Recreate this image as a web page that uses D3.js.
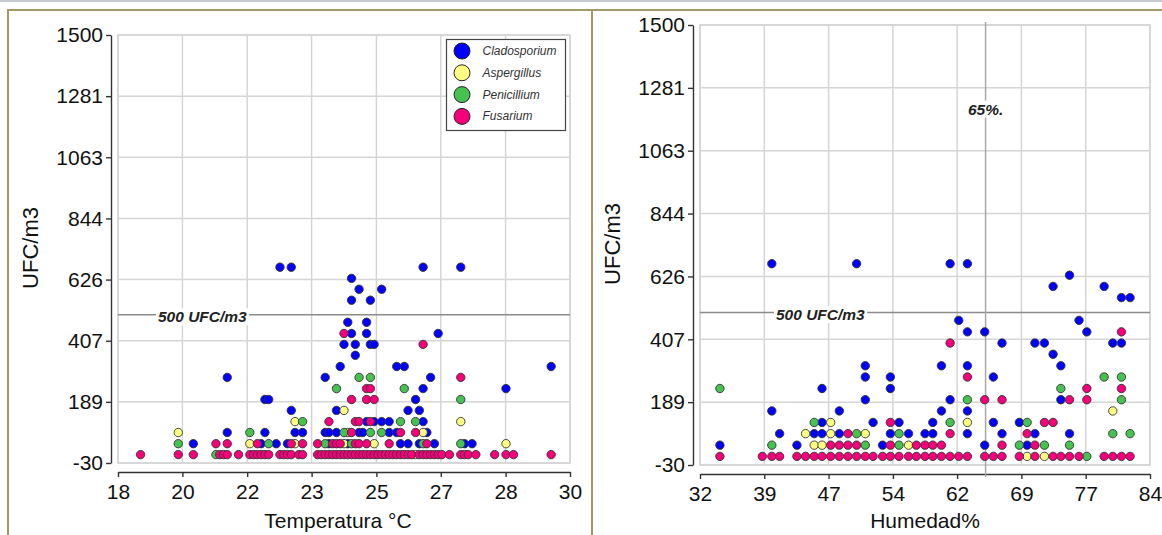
<!DOCTYPE html>
<html>
<head>
<meta charset="utf-8">
<script src="https://cdn.jsdelivr.net/npm/d3@7"></script>
<style>
  body { margin: 0; background: #fff; }
  svg { display: block; font-family: "Liberation Sans", Arial, sans-serif; }
</style>
</head>
<body>
<svg id="chart" width="1162" height="535"></svg>
<script>
// ---- Data -------------------------------------------------------------
const speciesNames = ["Cladosporium", "Aspergillus", "Penicillium", "Fusarium"];
const speciesColors = ["#0000ff", "#ffff80", "#46c250", "#f5007a"];

const yTickValues = [-30, 188.6, 407.1, 625.7, 844.3, 1062.9, 1281.4, 1500];
const yTickLabels = ["-30", "189", "407", "626", "844", "1063", "1281", "1500"];

const tempTickValues = [18, 19.71, 21.43, 23.14, 24.86, 26.57, 28.29, 30];
const tempTickLabels = ["18", "20", "22", "23", "25", "27", "28", "30"];

const humTickValues = [32, 39.43, 46.86, 54.29, 61.71, 69.14, 76.57, 84];
const humTickLabels = ["32", "39", "47", "54", "62", "69", "77", "84"];

const limitUFC = 500;
const limitHumidity = 65;

// [temperatura, UFC/m3]
const tempClado = [
  [22.3,670],[22.6,670],[26.1,670],[27.1,670],
  [24.2,630],
  [24.4,591],[25.0,591],
  [24.2,552],[24.7,552],
  [24.1,473],[24.6,473],
  [24.2,433],[24.6,433],[26.5,433],
  [24.0,394],[24.3,394],[24.7,394],[24.8,394],
  [24.3,355],
  [23.9,315],[25.4,315],[25.6,315],[29.5,315],
  [20.9,276],[23.5,276],[26.3,276],
  [26.1,236],[28.3,236],
  [21.9,197],[22.0,197],[25.9,197],
  [22.6,158],[23.8,158],[25.7,158],[26.0,158],
  [24.6,118],[24.8,118],[25.0,118],[25.2,118],[26.1,118],
  [20.9,79],[21.9,79],[22.7,79],[22.9,79],[23.5,79],[23.6,79],[23.8,79],[24.4,79],[24.5,79],[25.2,79],[25.4,79],[26.2,79],
  [20.0,39],[21.8,39],[22.2,39],[22.5,39],[23.6,39],[24.1,39],[25.5,39],[25.7,39],[26.0,39],[26.4,39],[27.2,39],[27.4,39]
];
const tempAsper = [
  [24.0,158],[22.7,118],[27.1,118],[19.6,79],[24.1,79],[26.1,79],
  [21.5,39],[22.7,39],[24.0,39],[24.8,39],[28.3,39],[25.9,0]
];
const tempPenic = [
  [24.4,276],[24.7,276],[23.8,236],[25.6,236],[27.1,197],
  [22.9,118],[25.5,118],[25.9,118],
  [21.5,79],[24.0,79],[24.7,79],[25.0,79],
  [19.6,39],[22.0,39],[23.5,39],[24.2,39],[26.1,39],[27.1,39],
  [20.6,0]
];
const tempFusar = [
  [24.0,433],[26.1,394],[27.1,276],[24.6,236],[24.7,236],
  [24.2,197],[24.6,197],[24.8,197],
  [23.6,118],[24.3,118],[24.4,118],[24.7,118],
  [24.2,79],[25.5,79],[25.9,79],
  [20.6,39],[20.9,39],[21.7,39],[22.6,39],[22.9,39],[23.3,39],[23.7,39],[23.8,39],[23.9,39],
  [24.3,39],[24.4,39],[24.6,39],[25.2,39],[26.2,39],
  [18.6,0],[19.6,0],[20.0,0],[20.7,0],[20.8,0],[20.9,0],[21.2,0],[21.5,0],[21.6,0],[21.7,0],
  [21.8,0],[21.9,0],[22.0,0],[22.3,0],[22.4,0],[22.5,0],[22.6,0],[22.8,0],[22.9,0],
  [23.3,0],[23.4,0],[23.5,0],[23.6,0],[23.7,0],[23.8,0],[23.9,0],[24.0,0],[24.1,0],[24.2,0],
  [24.3,0],[24.4,0],[24.5,0],[24.6,0],[24.7,0],[24.8,0],[24.9,0],[25.0,0],[25.1,0],[25.2,0],
  [25.3,0],[25.4,0],[25.5,0],[25.6,0],[25.7,0],[25.8,0],[26.0,0],[26.1,0],[26.2,0],[26.3,0],
  [26.4,0],[26.5,0],[26.6,0],
  [26.8,0],[27.1,0],[27.2,0],[27.3,0],[27.5,0],[28.0,0],[28.3,0],[28.5,0],[29.5,0]
];

// [humedad %, UFC/m3]
const humClado = [
  [40.3,670],[50.1,670],[60.9,670],[62.9,670],
  [74.7,630],
  [72.8,591],[78.7,591],
  [80.7,552],[81.7,552],
  [61.9,473],[75.8,473],
  [62.9,433],[64.9,433],[76.7,433],
  [66.9,394],[70.7,394],[71.8,394],[79.7,394],[80.7,394],
  [72.8,355],
  [51.1,315],[59.9,315],[62.9,315],[73.7,315],
  [51.1,276],[54.0,276],[65.9,276],
  [46.1,236],[54.0,236],
  [51.1,197],[60.9,197],[73.7,197],
  [40.3,158],[48.1,158],[59.9,158],[62.9,158],
  [46.1,118],[52.0,118],[55.0,118],[58.9,118],[65.9,118],[68.9,118],
  [41.2,79],[45.2,79],[46.1,79],[48.1,79],[54.0,79],[56.1,79],[58.0,79],[58.9,79],[62.9,79],[66.9,79],[70.7,79],[74.7,79],
  [34.3,39],[43.2,39],[53.1,39],[64.9,39],[69.8,39]
];
const humAsper = [
  [79.7,158],[47.1,118],[62.9,118],[44.2,79],[47.1,79],[51.1,79],
  [45.2,39],[46.1,39],[56.1,39],[69.8,0],[71.8,0]
];
const humPenic = [
  [78.7,276],[80.7,276],[34.3,236],[73.7,236],[62.9,197],[80.7,197],
  [45.2,118],[60.9,118],[69.8,118],
  [50.1,79],[55.0,79],[79.7,79],[81.7,79],
  [40.3,39],[51.1,39],[55.0,39],[68.9,39],[71.8,39],[74.7,39],
  [76.7,0]
];
const humFusar = [
  [80.7,433],[60.9,394],[62.9,276],[76.7,236],[80.7,236],
  [64.9,197],[66.9,197],[74.7,197],[76.7,197],
  [54.0,118],[71.8,118],[72.8,118],
  [49.1,79],[60.9,79],[69.8,79],
  [47.1,39],[48.1,39],[49.1,39],[50.1,39],[54.0,39],[57.0,39],[58.0,39],[58.9,39],[59.9,39],[66.9,39],[70.7,39],
  [34.3,0],[39.2,0],[40.3,0],[41.2,0],[43.2,0],[44.2,0],[45.2,0],[46.1,0],[47.1,0],[48.1,0],
  [49.1,0],[50.1,0],[51.1,0],[52.0,0],[53.1,0],[54.0,0],[55.0,0],[56.1,0],[57.0,0],[58.0,0],
  [58.9,0],[59.9,0],[60.9,0],[61.9,0],[62.9,0],[64.9,0],[65.9,0],[66.9,0],[68.9,0],[70.7,0],
  [72.8,0],[73.7,0],[74.7,0],[75.8,0],[78.7,0],[79.7,0],[80.7,0],[81.7,0]
];

// ---- Drawing ----------------------------------------------------------
const svg = d3.select("#chart");
const gridColor = "#d5d5d5";
const axisColor = "#333";
const frameColor = "#a39866";

// outer frames
svg.append("line").attr("x1", 0).attr("x2", 1162).attr("y1", 1).attr("y2", 1)
  .attr("stroke", "#c8ccd1").attr("stroke-width", 2);
svg.append("path").attr("d", "M8,535 V10 H1162").attr("fill", "none")
  .attr("stroke", frameColor).attr("stroke-width", 2);
svg.append("line").attr("x1", 592).attr("x2", 592).attr("y1", 10).attr("y2", 535)
  .attr("stroke", frameColor).attr("stroke-width", 2);

// text with a white box behind it, so lines under it are masked
function haloText(g, x, y, anchor, str) {
  const box = g.append("rect").attr("fill", "#fff");
  const t = g.append("text").attr("x", x).attr("y", y)
    .attr("text-anchor", anchor).attr("dominant-baseline", "central")
    .attr("font-size", 15.5).attr("font-weight", "bold").attr("font-style", "italic")
    .attr("fill", "#222").text(str);
  const b = t.node().getBBox();
  box.attr("x", b.x - 2).attr("y", b.y).attr("width", b.width + 4).attr("height", b.height);
  return t;
}

function drawPanel(p) {
  const x = d3.scaleLinear().domain(p.xDomain).range([p.left, p.right]);
  const y = d3.scaleLinear().domain([-30, 1500]).range([p.bottom, p.top]);
  const g = svg.append("g");

  // grid
  const grid = g.append("g").attr("stroke", gridColor).attr("stroke-width", 1.5);
  grid.selectAll("line.v").data(p.xTicks).join("line")
    .attr("x1", d => x(d)).attr("x2", d => x(d))
    .attr("y1", p.top).attr("y2", p.bottom);
  grid.selectAll("line.h").data(yTickValues).join("line")
    .attr("x1", p.left).attr("x2", p.right)
    .attr("y1", d => y(d)).attr("y2", d => y(d));
  grid.append("rect").attr("x", p.left).attr("y", p.top)
    .attr("width", p.right - p.left).attr("height", p.bottom - p.top)
    .attr("fill", "none");

  // axes, offset from the plotting area
  const yAxis = d3.axisLeft(y).tickValues(yTickValues)
    .tickFormat((d, i) => yTickLabels[i]).tickSize(5).tickSizeOuter(0).tickPadding(3);
  const gy = g.append("g").attr("transform", `translate(${p.left - 7},0)`).call(yAxis);
  const xAxis = d3.axisBottom(x).tickValues(p.xTicks)
    .tickFormat((d, i) => p.xLabels[i]).tickSize(5).tickSizeOuter(0).tickPadding(7);
  const gx = g.append("g").attr("transform", `translate(0,${p.bottom + 9})`).call(xAxis);
  [gx, gy].forEach(a => {
    a.selectAll("path, line").attr("stroke", axisColor).attr("stroke-width", 1.4);
    a.selectAll("text").attr("font-size", 21).attr("fill", "#111")
      .attr("font-family", "'Liberation Sans', Arial, sans-serif");
  });

  // axis titles
  g.append("text").attr("transform", `translate(${p.yTitleX},${p.yTitleY}) rotate(-90)`)
    .attr("text-anchor", "middle").attr("dominant-baseline", "central")
    .attr("font-size", 22).attr("fill", "#111").text("UFC/m3");
  g.append("text").attr("x", p.xTitleX).attr("y", 528)
    .attr("text-anchor", "middle").attr("font-size", 21).attr("fill", "#111")
    .text(p.xTitle);

  // 500 UFC/m3 reference line
  const yl = y(limitUFC);
  g.append("line").attr("x1", p.left).attr("x2", p.right).attr("y1", yl).attr("y2", yl)
    .attr("stroke", "#8c8c8c").attr("stroke-width", 1.5);

  // optional vertical humidity reference
  if (p.vLine !== undefined) {
    const xv = x(p.vLine);
    g.append("line").attr("x1", xv).attr("x2", xv).attr("y1", p.top - 3).attr("y2", p.bottom + 12)
      .attr("stroke", "#a8a8a8").attr("stroke-width", 1.5);
    haloText(g, xv, 109, "middle", p.vLine + "%.");
  }

  haloText(g, p.refLabelX, yl + 2, "start", limitUFC + " UFC/m3");

  // points
  p.series.forEach((data, i) => {
    g.append("g").selectAll("circle").data(data).join("circle")
      .attr("cx", d => x(d[0])).attr("cy", d => y(d[1])).attr("r", 4.2)
      .attr("fill", speciesColors[i]).attr("stroke", "#333").attr("stroke-width", 0.9);
  });
  return g;
}

drawPanel({
  left: 118, right: 570, top: 35, bottom: 463,
  xDomain: [18, 30], xTicks: tempTickValues, xLabels: tempTickLabels,
  xTitle: "Temperatura °C", xTitleX: 338, yTitleX: 30, yTitleY: 248,
  refLabelX: 158,
  series: [tempClado, tempAsper, tempPenic, tempFusar]
});

drawPanel({
  left: 700, right: 1150, top: 25, bottom: 465,
  xDomain: [32, 84], xTicks: humTickValues, xLabels: humTickLabels,
  xTitle: "Humedad%", xTitleX: 925, yTitleX: 612, yTitleY: 244,
  refLabelX: 776, vLine: limitHumidity,
  series: [humClado, humAsper, humPenic, humFusar]
});

// legend
const legend = svg.append("g").attr("transform", "translate(446.5,39.5)");
legend.append("rect").attr("width", 119).attr("height", 91)
  .attr("fill", "#fff").attr("stroke", "#444").attr("stroke-width", 1.2);
const items = legend.selectAll("g.item").data(speciesNames).join("g")
  .attr("transform", (d, i) => `translate(0,${11.5 + i * 21.8})`);
items.append("circle").attr("cx", 15.5).attr("cy", 0).attr("r", 8)
  .attr("fill", (d, i) => speciesColors[i]).attr("stroke", "#222").attr("stroke-width", 1);
items.append("text").attr("x", 36).attr("y", 0).attr("dominant-baseline", "central")
  .attr("font-size", 12).attr("font-style", "italic").attr("fill", "#333").text(d => d);
</script>
</body>
</html>
